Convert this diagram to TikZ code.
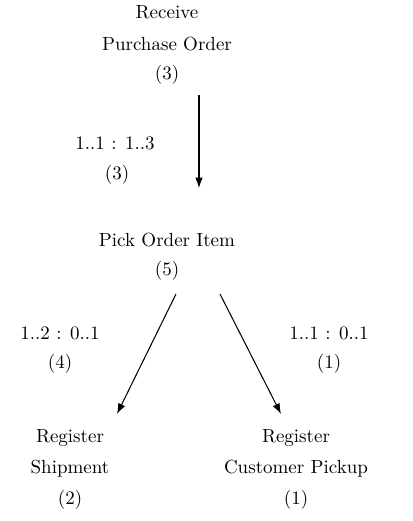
\documentclass[tikz,border=0pt]{standalone}
\usetikzlibrary{arrows.meta}
\begin{document}
\begin{tikzpicture}[x=0.5263pt,y=-0.5263pt,
  lbl/.style={inner sep=0pt,align=center,font=\normalsize},
  conn/.style={-{Latex[length=5.5pt,width=4pt]},line width=0.55pt}]
\useasboundingbox (0,0) rectangle (413,521);
\node[lbl] (r1) at (167,12) {Receive};
\node[lbl] (r2) at (167,44) {Purchase Order};
\node[lbl] (r3) at (167,75) {(3)};
\node[lbl] (p1) at (167,240) {Pick Order Item};
\node[lbl] (p2) at (167,271) {(5)};
\node[lbl] (s1) at (70,438) {Register};
\node[lbl] (s2) at (70,469) {Shipment};
\node[lbl] (s3) at (70,500) {(2)};
\node[lbl] (c1) at (296,438) {Register};
\node[lbl] (c2) at (296,469) {Customer Pickup};
\node[lbl] (c3) at (296,500) {(1)};
\node[lbl] (e1a) at (115,143) {1..1 : 1..3};
\node[lbl] (e1b) at (117,175) {(3)};
\node[lbl] (e2a) at (60,333) {1..2 : 0..1};
\node[lbl] (e2b) at (60,364) {(4)};
\node[lbl] (e3a) at (329,333) {1..1 : 0..1};
\node[lbl] (e3b) at (329,364) {(1)};
\coordinate (a1s) at (199,95);
\coordinate (a1e) at (199,188);
\coordinate (a2s) at (176,294);
\coordinate (a2e) at (117,414);
\coordinate (a3s) at (220,294);
\coordinate (a3e) at (281,414);
\draw[conn] (a1s) -- (a1e);
\draw[conn] (a2s) -- (a2e);
\draw[conn] (a3s) -- (a3e);
\end{tikzpicture}
\end{document}
